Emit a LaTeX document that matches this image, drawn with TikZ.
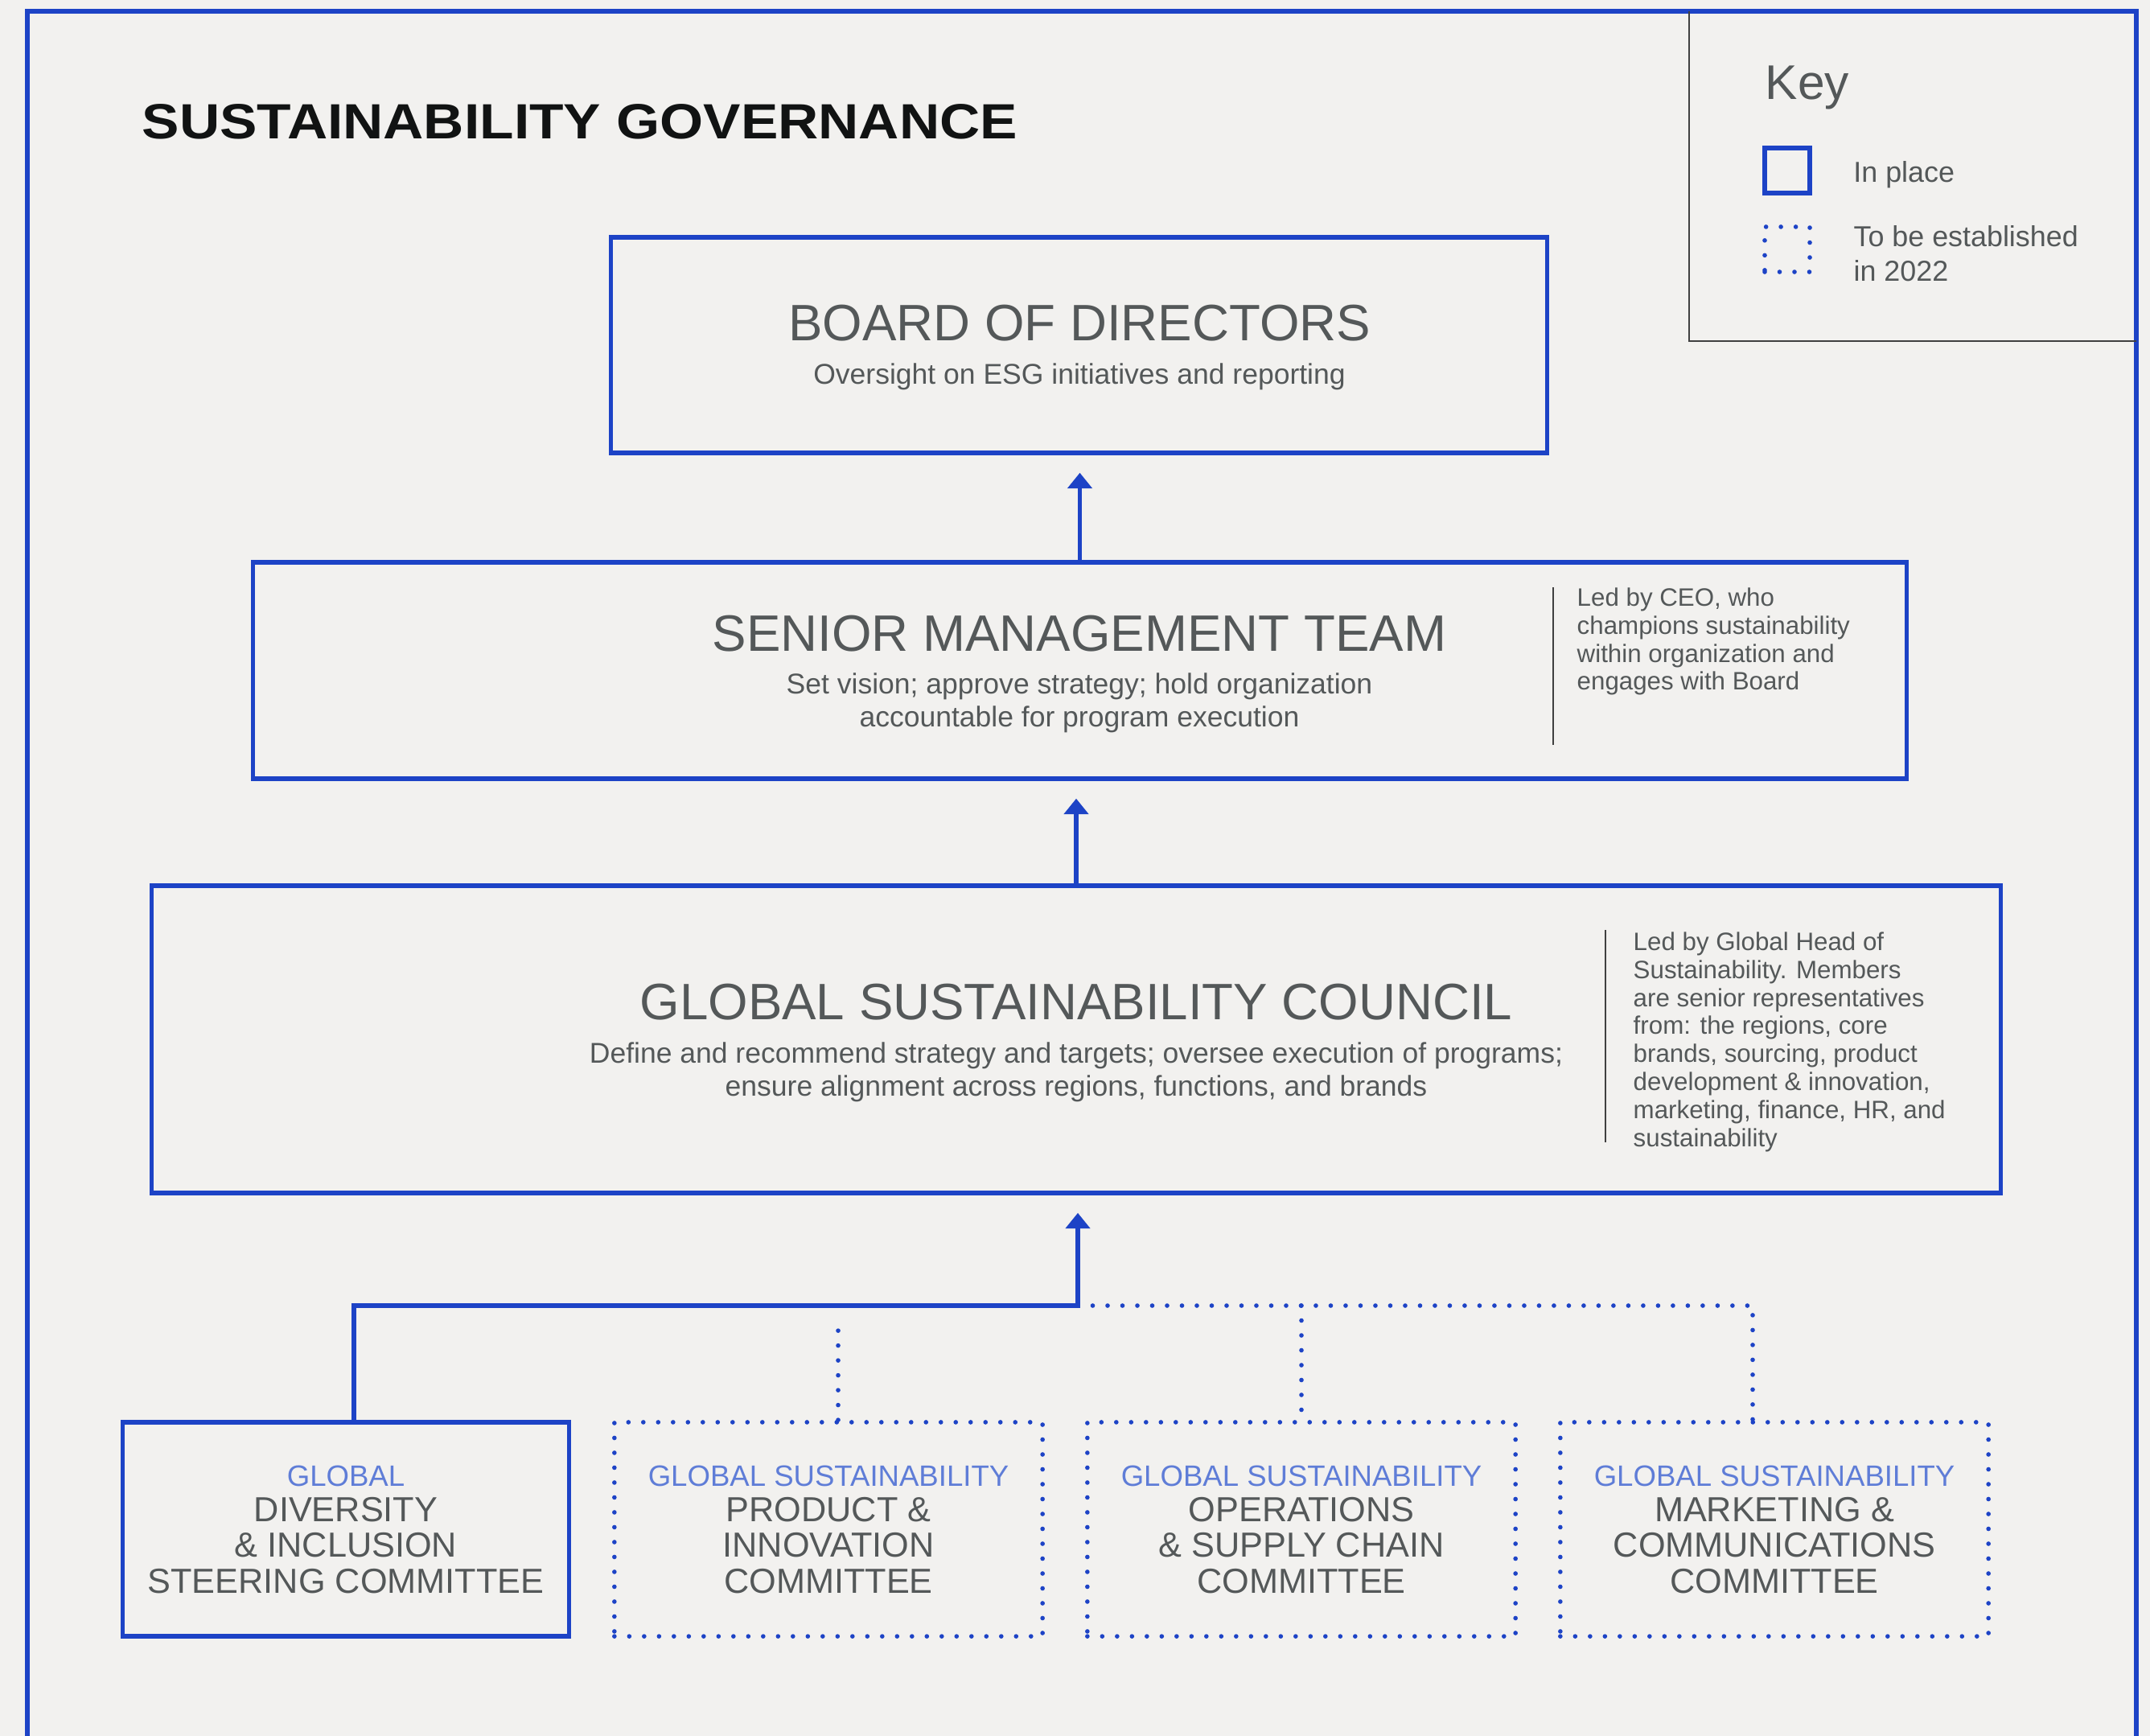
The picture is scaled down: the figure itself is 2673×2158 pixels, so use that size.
\documentclass[tikz,border=0pt]{standalone}
\usepackage{fontspec}
\setmainfont{Liberation Sans}
\newfontfamily\headfont{Liberation Sans}[FakeStretch=1.13]
\usetikzlibrary{arrows.meta,positioning,calc}

\definecolor{govblue}{HTML}{1D43C6}
\definecolor{govlight}{HTML}{5F7DD7}
\definecolor{govgray}{HTML}{545859}
\definecolor{govbg}{HTML}{F2F1EF}
\definecolor{govtitle}{HTML}{111313}

\begin{document}
\begin{tikzpicture}[x=0.01cm,y=-0.01cm,inner sep=0pt]
  \tikzstyle{inplace}=[draw=govblue,line width=1.5pt]
  \tikzstyle{planned}=[draw=govblue,line width=1.6pt,line cap=round,dash pattern=on 0pt off 5.26pt]
  \tikzstyle{flow}=[draw=govblue,line width=1.6pt,shorten >=0.22cm,-{Triangle[width=8.5pt,length=5.5pt]}]
  \tikzstyle{boxtitle}=[text=govgray,font=\fontsize{18.1}{20}\selectfont]
  \tikzstyle{boxsub}=[text=govgray,align=center,font=\fontsize{10.1}{11.7}\selectfont]
  \tikzstyle{sidenote}=[text=govgray,anchor=north west,align=left,font=\fontsize{8.9}{9.9}\selectfont]
  \tikzstyle{committee}=[text=govgray,align=center,minimum width=5.32cm,minimum height=2.66cm,font=\fontsize{12.3}{12.6}\selectfont]
  \tikzstyle{keytext}=[text=govgray,align=left,font=\fontsize{10.2}{12.1}\selectfont]
  \tikzstyle{rule}=[draw=black!75,line width=0.4pt]

  \fill[govbg] (0,0) rectangle (2673,2158);
  \useasboundingbox (0,0) rectangle (2673,2158);

  % frame and key corner
  \draw[govblue,line width=1.6pt] (34,2158) -- (34,14) -- (2656,14) -- (2656,2158);
  \draw[rule] (2100,14) -- (2100,424) -- (2656,424);

  \node[anchor=west,text=govtitle,font=\headfont\bfseries\fontsize{17.5}{20}\selectfont] (title) at (176,151) {SUSTAINABILITY GOVERNANCE};

  % key
  \node[text=govgray,anchor=west,font=\fontsize{17.2}{20}\selectfont] (keyT) at (2194,109) {Key};
  \node[inplace,minimum size=0.56cm] (keyOn) at (2222,212) {};
  \node[planned,minimum size=0.56cm] (keyOff) at (2222,310) {};
  \node[keytext,right=0.51cm of keyOn,yshift=-0.05cm] (keyOnT) {In place};
  \node[keytext,right=0.51cm of keyOff,yshift=-0.05cm] (keyOffT) {To be established\\in 2022};

  % boxes
  \node[inplace,minimum width=11.63cm,minimum height=2.68cm] (board) at (1341.5,429) {};
  \node[inplace,minimum width=20.55cm,minimum height=2.69cm] (smt) at (1342.5,833.5) {};
  \node[inplace,minimum width=22.98cm,minimum height=3.82cm] (gsc) at (1338,1292) {};

  \node[boxtitle] (boardT) at (1342,402) {BOARD OF DIRECTORS};
  \node[boxsub] (boardS) at (1342,468) {Oversight on ESG initiatives and reporting};
  \node[boxtitle] (smtT) at (1342,788) {SENIOR MANAGEMENT TEAM};
  \node[boxsub] (smtS) at (1342,874) {Set vision; approve strategy; hold organization\\accountable for program execution};
  \node[boxtitle] (gscT) at (1338,1246) {GLOBAL SUSTAINABILITY COUNCIL};
  \node[boxsub] (gscS) at (1338,1333) {Define and recommend strategy and targets; oversee execution of programs;\\ensure alignment across regions, functions, and brands};

  \draw[rule] (1931,730) -- (1931,926);
  \node[sidenote] (smtN) at (1960,730) {Led by CEO, who\\champions sustainability\\within organization and\\engages with Board};
  \draw[rule] (1996,1156) -- (1996,1420);
  \node[sidenote] (gscN) at (2030,1158) {Led by Global Head of\\Sustainability. Members\\are senior representatives\\from: the regions, core\\brands, sourcing, product\\development \& innovation,\\marketing, finance, HR, and\\sustainability};

  % committees
  \node[committee,inplace,minimum width=5.54cm] (dic) at (430,1901) {\textcolor{govlight}{\fontsize{10.4}{12.6}\selectfont GLOBAL}\\DIVERSITY\\\& INCLUSION\\STEERING COMMITTEE};
  \node[committee,planned] (prod) at (1030,1901) {\textcolor{govlight}{\fontsize{10.4}{12.6}\selectfont GLOBAL SUSTAINABILITY}\\PRODUCT \&\\INNOVATION\\COMMITTEE};
  \node[committee,planned] (ops) at (1618,1901) {\textcolor{govlight}{\fontsize{10.4}{12.6}\selectfont GLOBAL SUSTAINABILITY}\\OPERATIONS\\\& SUPPLY CHAIN\\COMMITTEE};
  \node[committee,planned] (mkt) at (2206,1901) {\textcolor{govlight}{\fontsize{10.4}{12.6}\selectfont GLOBAL SUSTAINABILITY}\\MARKETING \&\\COMMUNICATIONS\\COMMITTEE};

  % connectors
  \draw[flow] (smt.north) -- (smt.north |- board.south);
  \draw[flow] (gsc.north) -- (gsc.north |- smt.south);
  \coordinate (hub) at (1340,1623);
  \coordinate (hubR) at (2179,1623);
  \draw[flow] ([xshift=0.1cm]dic.north) |- (hub) -- (hub |- gsc.south);
  \draw[planned] (hub) -- (hubR) -- (hubR |- mkt.north);
  \draw[planned] (ops.north |- hub) -- (ops.north);
  \draw[planned] ([xshift=0.12cm]prod.north) -- ++(0,-128);
\end{tikzpicture}
\end{document}
